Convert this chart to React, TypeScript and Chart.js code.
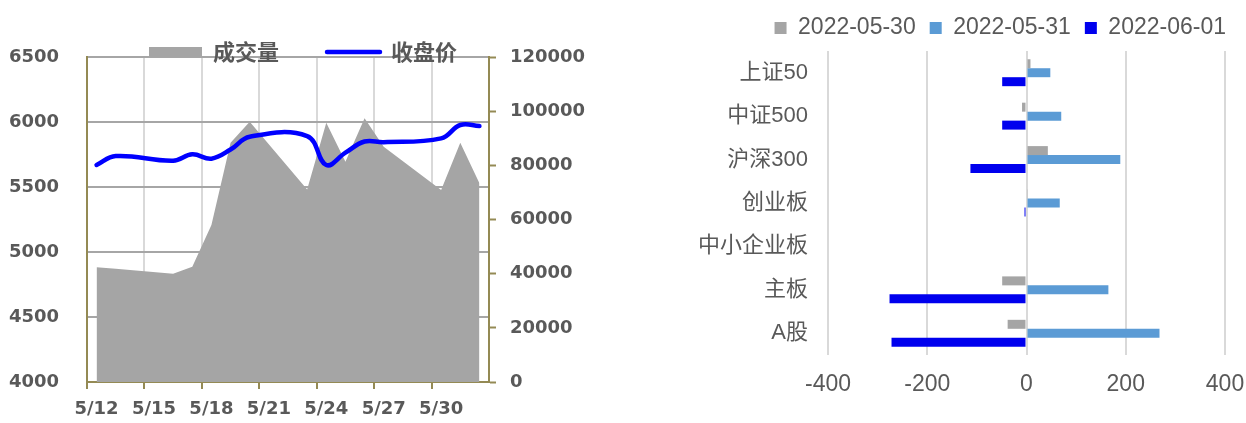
import React, { useEffect, useRef } from 'react';
import { Chart, registerables } from 'chart.js';

Chart.register(...registerables);

// ---------- Left chart data ----------
const calendarDays = ['5/12', '5/13', '5/14', '5/15', '5/16', '5/17', '5/18', '5/19', '5/20', '5/21', '5/22', '5/23', '5/24', '5/25', '5/26', '5/27', '5/28', '5/29', '5/30', '5/31', '6/1'];
const tradeDays = ['5/12', '5/13', '5/16', '5/17', '5/18', '5/19', '5/20', '5/23', '5/24', '5/25', '5/26', '5/27', '5/30', '5/31', '6/1'];
const volume = [42400, 41800, 40000, 42600, 58000, 88300, 96100, 71100, 95700, 81300, 97400, 86900, 70900, 88300, 73400];
const closePrice = [5669, 5738, 5702, 5751, 5718, 5788, 5887, 5892, 5669, 5764, 5850, 5845, 5874, 5977, 5969];
const priceTicks = { min: 4000, max: 6500, step: 500 };
const volumeTicks = { min: 0, max: 120000, step: 20000 };

// ---------- Right chart data ----------
const boards = ['上证50', '中证500', '沪深300', '创业板', '中小企业板', '主板', 'A股'];
const flow0530 = [8, -9, 43, 1.5, null, -49, -38];
const flow0531 = [48, 70, 189, 67, null, 165, 268];
const flow0601 = [-49, -49, -113, -4, null, -276, -272];
const seriesNames = ['2022-05-30', '2022-05-31', '2022-06-01'];
const flowTicks = { min: -400, max: 400, step: 200 };

const OLIVE = '#948A54';
const TEXT = '#595959';
const GRAY_FILL = '#A5A5A5';
const BLUE_LINE = '#0000FF';
const CLEAR = 'rgba(0,0,0,0)';

// Moves the legend box after layout; the clip box is widened so nothing gets cut.
const legendShift = {
  id: 'legendShift',
  afterLayout(chart: any, _args: any, opts: any) {
    const lg = chart.legend;
    if (!lg) return;
    const dx = (opts && opts.dx) || 0;
    const dy = (opts && opts.dy) || 0;
    lg.left += dx;
    lg.right += dx;
    lg.top += dy;
    lg.bottom += dy + 40;
  },
};

function LeftChart() {
  const ref = useRef<HTMLCanvasElement | null>(null);
  useEffect(() => {
    if (!ref.current) return;
    const numFont = { family: "'DejaVu Sans', sans-serif", size: 18, weight: 'bold' as const };
    const chart = new Chart(ref.current, {
      type: 'line',
      data: {
        labels: calendarDays,
        datasets: [
          {
            label: '成交量',
            data: tradeDays.map((d, i) => ({ x: d, y: volume[i] })) as any,
            yAxisID: 'y1',
            fill: 'origin',
            backgroundColor: GRAY_FILL,
            borderColor: CLEAR,
            borderWidth: 0,
            pointRadius: 0,
            tension: 0,
            order: 2,
          },
          {
            label: '收盘价',
            data: tradeDays.map((d, i) => ({ x: d, y: closePrice[i] })) as any,
            yAxisID: 'y',
            fill: false,
            borderColor: BLUE_LINE,
            borderWidth: 4.5,
            borderCapStyle: 'round',
            borderJoinStyle: 'round',
            pointRadius: 0,
            tension: 0.4,
            order: 1,
          },
        ],
      },
      options: {
        responsive: false,
        animation: false,
        events: [],
        layout: { padding: { top: 0, left: 0, right: 0, bottom: 0 } },
        plugins: {
          tooltip: { enabled: false },
          legendShift: { dx: 3, dy: -7 },
          legend: {
            display: true,
            position: 'top',
            align: 'center',
            maxHeight: 57,
            labels: {
              usePointStyle: true,
              pointStyleWidth: 53,
              boxHeight: 10,
              padding: 48,
              color: TEXT,
              font: { family: "'Noto Sans CJK SC', sans-serif", size: 22, weight: 'bold' },
              generateLabels: () => [
                { text: '成交量', fillStyle: GRAY_FILL, strokeStyle: GRAY_FILL, lineWidth: 0, pointStyle: 'rect', fontColor: TEXT, datasetIndex: 0, hidden: false },
                { text: '收盘价', fillStyle: BLUE_LINE, strokeStyle: BLUE_LINE, lineWidth: 4.5, lineCap: 'round', pointStyle: 'line', fontColor: TEXT, datasetIndex: 1, hidden: false },
              ] as any,
            },
          },
        } as any,
        scales: {
          x: {
            type: 'category',
            offset: true,
            grid: {
              offset: true,
              lineWidth: 2,
              color: (c: any) => (typeof c.index === 'number' && c.index % 3 === 0 ? '#D9D9D9' : CLEAR),
              tickColor: (c: any) => (typeof c.index === 'number' && c.index % 3 === 0 ? OLIVE : CLEAR),
              tickLength: 7,
              tickWidth: 2,
              drawTicks: true,
            },
            border: { display: true, color: OLIVE, width: 2 },
            ticks: {
              autoSkip: false,
              maxRotation: 0,
              minRotation: 0,
              padding: 10,
              color: TEXT,
              font: numFont,
              callback: (_v: any, i: number) => (i % 3 === 0 ? calendarDays[i] : ''),
            },
            afterFit: (s: any) => { s.height = 41; },
          },
          y: {
            position: 'left',
            min: priceTicks.min,
            max: priceTicks.max,
            grid: { color: '#A6A6A6', lineWidth: 2, drawTicks: false },
            border: { display: true, color: OLIVE, width: 2 },
            ticks: {
              stepSize: priceTicks.step,
              padding: 28,
              color: TEXT,
              font: numFont,
              callback: (v: any) => String(v),
            },
            afterFit: (s: any) => { s.width = 87; },
          },
          y1: {
            position: 'right',
            min: volumeTicks.min,
            max: volumeTicks.max,
            grid: {
              drawOnChartArea: false,
              drawTicks: true,
              color: OLIVE,
              tickColor: OLIVE,
              tickLength: 7,
              tickWidth: 2,
            },
            border: { display: true, color: OLIVE, width: 2 },
            ticks: {
              stepSize: volumeTicks.step,
              padding: 14,
              color: TEXT,
              font: numFont,
              callback: (v: any) => String(v),
            },
            afterFit: (s: any) => { s.width = 111; },
          },
        } as any,
      },
      plugins: [legendShift as any],
    });
    return () => chart.destroy();
  }, []);
  return <canvas ref={ref} width={600} height={423} style={{ width: 600, height: 423, display: 'block' }} />;
}

function RightChart() {
  const ref = useRef<HTMLCanvasElement | null>(null);
  useEffect(() => {
    if (!ref.current) return;
    const colors = [GRAY_FILL, '#5B9BD5', '#0000EE'];
    const series = [flow0530, flow0531, flow0601];
    const chart = new Chart(ref.current, {
      type: 'bar',
      data: {
        labels: boards,
        datasets: series.map((d, i) => ({
          label: seriesNames[i],
          data: d as any,
          backgroundColor: colors[i],
          borderWidth: 0,
          categoryPercentage: 0.62,
          barPercentage: 1.0,
        })),
      },
      options: {
        indexAxis: 'y',
        responsive: false,
        animation: false,
        events: [],
        layout: { padding: { top: 4, right: 0, left: 0, bottom: 0 } },
        plugins: {
          tooltip: { enabled: false },
          legendShift: { dx: -6, dy: -1.5 },
          legend: {
            display: true,
            position: 'top',
            align: 'end',
            labels: {
              boxWidth: 12,
              boxHeight: 12,
              padding: 14,
              color: TEXT,
              font: { family: "'Liberation Sans', Arial, sans-serif", size: 23 },
              generateLabels: () => seriesNames.map((n, i) => ({
                text: n, fillStyle: colors[i], strokeStyle: colors[i], lineWidth: 0, fontColor: TEXT, datasetIndex: i, hidden: false,
              })) as any,
            },
          },
        } as any,
        scales: {
          x: {
            min: flowTicks.min,
            max: flowTicks.max,
            grid: { color: '#D9D9D9', lineWidth: 2, drawTicks: false },
            border: { display: false },
            ticks: {
              stepSize: flowTicks.step,
              padding: 16,
              color: TEXT,
              font: { family: "'Liberation Sans', Arial, sans-serif", size: 23 },
              callback: (v: any) => String(v),
            },
            afterFit: (s: any) => { s.height = 68; s.paddingRight = 21; s.paddingLeft = 0; },
          },
          y: {
            grid: { display: false, drawTicks: false },
            border: { display: false },
            ticks: {
              padding: 20,
              color: TEXT,
              font: { family: "'Liberation Sans', 'Noto Sans CJK SC', sans-serif", size: 22 },
            },
            afterFit: (s: any) => { s.width = 228; },
          },
        } as any,
      },
      plugins: [legendShift as any],
    });
    return () => chart.destroy();
  }, []);
  return <canvas ref={ref} width={646} height={423} style={{ width: 646, height: 423, display: 'block' }} />;
}

export default function App() {
  return (
    <div style={{ position: 'absolute', left: 0, top: 0, width: 1246, height: 423, background: '#fff' }}>
      <div style={{ position: 'absolute', left: 0, top: 0 }}>
        <LeftChart />
      </div>
      <div style={{ position: 'absolute', left: 600, top: 0 }}>
        <RightChart />
      </div>
    </div>
  );
}
